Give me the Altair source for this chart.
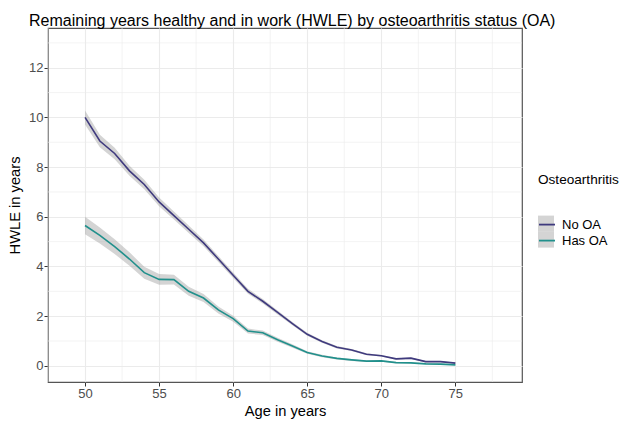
import altair as alt
import pandas as pd

ages = list(range(50, 76))
groups = ["No OA", "Has OA"]
colors = ["#3F3A7E", "#21908C"]

no_oa = [10.0, 9.05, 8.55, 7.85, 7.3, 6.6, 6.05, 5.5, 4.95, 4.3, 3.65, 3.0, 2.6,
         2.15, 1.7, 1.27, 0.98, 0.75, 0.64, 0.47, 0.41, 0.28, 0.31, 0.17, 0.17, 0.11]
no_oa_hw = [0.28, 0.25, 0.23, 0.2, 0.19, 0.18, 0.16, 0.15, 0.14, 0.12, 0.11, 0.1, 0.09,
            0.08, 0.07, 0.06, 0.05, 0.05, 0.04, 0.04, 0.03, 0.03, 0.03, 0.03, 0.02, 0.02]
has_oa = [5.65, 5.25, 4.8, 4.3, 3.75, 3.48, 3.47, 3.0, 2.73, 2.25, 1.9, 1.4, 1.33,
          1.05, 0.8, 0.54, 0.4, 0.3, 0.24, 0.19, 0.2, 0.13, 0.12, 0.08, 0.07, 0.04]
has_oa_hw = [0.35, 0.32, 0.3, 0.27, 0.24, 0.22, 0.2, 0.18, 0.16, 0.14, 0.12, 0.1, 0.09,
             0.08, 0.07, 0.05, 0.05, 0.04, 0.04, 0.03, 0.03, 0.03, 0.02, 0.02, 0.02, 0.02]

x_major = [50, 55, 60, 65, 70, 75]
x_minor = [47.5, 52.5, 57.5, 62.5, 67.5, 72.5, 77.5]
y_major = [0, 2, 4, 6, 8, 10, 12]
y_minor = [1, 3, 5, 7, 9, 11, 13]

rows = []
for g, vals, hws in [("No OA", no_oa, no_oa_hw), ("Has OA", has_oa, has_oa_hw)]:
    for a, v, h in zip(ages, vals, hws):
        rows.append({"age": a, "hwle": v, "lo": v - h, "hi": v + h, "grp": g, "grp_fill": g})
df = pd.DataFrame(rows)

xs = alt.Scale(domain=[47.5, 79.5], nice=False, zero=False)
ys = alt.Scale(domain=[-0.65, 13.6], nice=False, zero=False)
x_axis = alt.Axis(values=x_major, grid=True)
y_axis = alt.Axis(values=y_major, grid=True)
X_TITLE = "Age in years"
Y_TITLE = "HWLE in years"
FONT = "Liberation Sans"

minor_x = alt.Chart(pd.DataFrame({"v": x_minor})).mark_rule(
    color="#EBEBEB", strokeWidth=0.6).encode(
    x=alt.X("v:Q", scale=xs, axis=x_axis, title=X_TITLE))
minor_y = alt.Chart(pd.DataFrame({"v": y_minor})).mark_rule(
    color="#EBEBEB", strokeWidth=0.6).encode(
    y=alt.Y("v:Q", scale=ys, axis=y_axis, title=Y_TITLE))

legend_common = dict(orient="none", legendX=490, legendY=145, titleFont=FONT,
                     titleFontSize=13.6, titleFontWeight="normal", titleColor="#000000",
                     titlePadding=29, labelFont=FONT, labelFontSize=13, labelColor="#000000",
                     symbolSize=256, rowPadding=0, labelOffset=6, title="Osteoarthritis")

band = alt.Chart(df).mark_area(opacity=0.45).encode(
    x=alt.X("age:Q", scale=xs, axis=x_axis, title=X_TITLE),
    y=alt.Y("lo:Q", scale=ys, axis=y_axis, title=Y_TITLE),
    y2="hi:Q",
    fill=alt.Fill("grp_fill:N",
                  scale=alt.Scale(range=["#A0A0A0", "#A0A0A0"]),
                  sort=groups,
                  legend=alt.Legend(symbolType="square", symbolOpacity=0.45,
                                    symbolStrokeWidth=0, titleOpacity=0, labelOpacity=0,
                                    **legend_common)),
    detail="grp:N",
)

lines = alt.Chart(df).mark_line(strokeWidth=1.6).encode(
    x=alt.X("age:Q", scale=xs, axis=x_axis, title=X_TITLE),
    y=alt.Y("hwle:Q", scale=ys, axis=y_axis, title=Y_TITLE),
    stroke=alt.Stroke("grp:N", scale=alt.Scale(domain=groups, range=colors),
                      sort=groups,
                      legend=alt.Legend(symbolType="stroke", symbolStrokeWidth=1.8,
                                        **legend_common)),
)

chart = alt.layer(minor_x, minor_y, band, lines).properties(
    width=474, height=354,
    autosize=alt.AutoSizeParams(type="none"),
    padding={"left": 40, "top": 20, "right": 97, "bottom": 38},
    title=alt.TitleParams(
        "Remaining years healthy and in work (HWLE) by osteoarthritis status (OA)",
        anchor="start", frame="group", dx=-19, dy=4, offset=3, font=FONT, fontSize=16,
        fontWeight="normal", color="#000000"),
).configure_view(stroke="#555555", strokeWidth=1.2).configure_axis(
    domain=False, gridColor="#EBEBEB", gridWidth=1.1, tickColor="#333333",
    tickSize=4, labelFont=FONT, labelFontSize=13, labelColor="#4D4D4D",
    labelPadding=1, titleFont=FONT, titleFontSize=14.7, titleFontWeight="normal",
    titleColor="#000000",
).configure_axisX(titlePadding=3).configure_axisY(titlePadding=6)

chart.save("out.html", embed_options={"renderer": "svg", "actions": False})
